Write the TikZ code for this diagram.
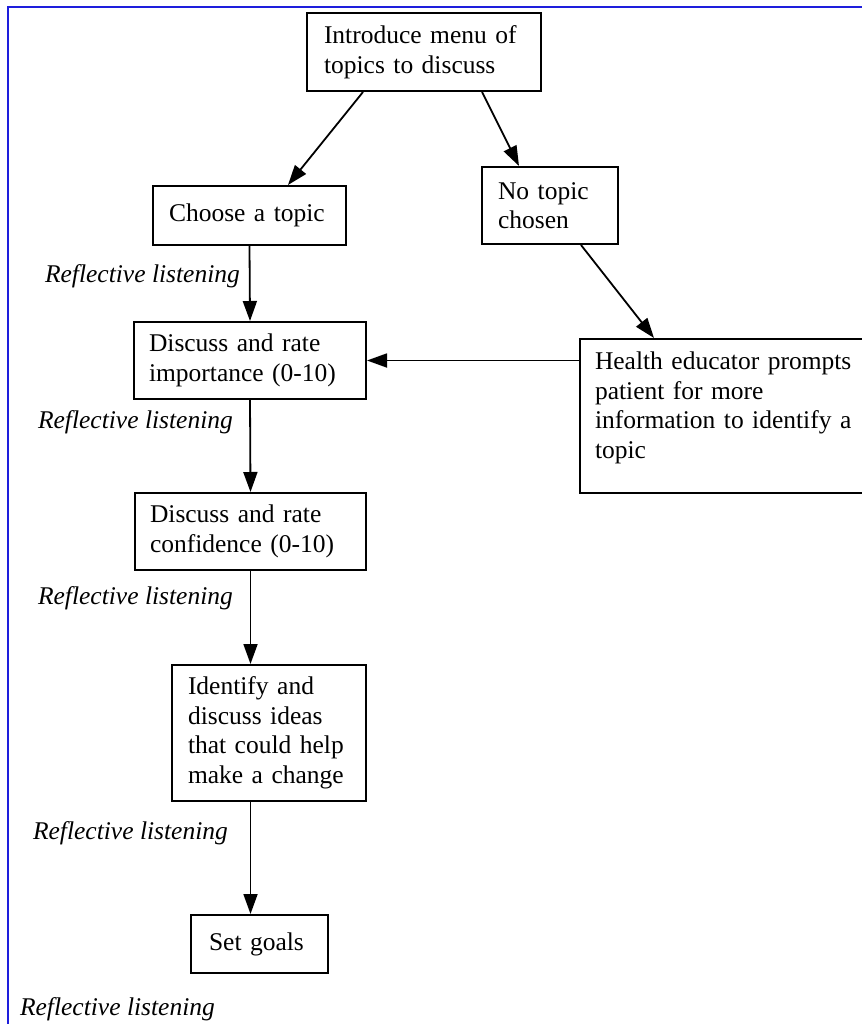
\documentclass[tikz,border=0pt]{standalone}
\usepackage{fontspec}
\setmainfont{Liberation Serif}
\usetikzlibrary{arrows.meta}

\definecolor{framecol}{RGB}{30,30,220}

\begin{document}
\begin{tikzpicture}[x=1pt, y=-1pt,
    box/.style={draw=black, line width=2pt, rectangle, align=left,
      inner ysep=0pt, font=\fontsize{25.5}{29.5}\selectfont},
    note/.style={anchor=east, inner sep=0pt,
      font=\fontsize{25.5}{29.5}\selectfont\itshape},
    flow/.style={-{Triangle[length=20pt,width=14pt]}, line width=1.8pt}]

      \useasboundingbox (0,0) rectangle (861,1024);

      % page frame, cut off at right and bottom
      \draw[framecol, line width=2.5pt] (8,1100) -- (8,7) -- (900,7);

      \node[box, minimum height=78pt, text width=200pt, inner xsep=17pt]
      (intro) at (424,52) {Introduce menu of\\topics to discuss};

      \node[box, minimum height=59pt, text width=161pt, inner xsep=16pt]
      (choose) at (249.5,215.5) {Choose a topic};

      \node[box, minimum height=77pt, text width=104pt, inner xsep=16pt]
      (notopic) at (550,205.5) {No topic\\chosen};

      \node[box, minimum height=77pt, text width=202pt, inner xsep=15pt]
      (import) at (250,360.5) {Discuss and rate\\importance (0-10)};

      \node[box, minimum height=154pt, text width=270pt, inner xsep=15pt,
      text depth=110pt]
      (health) at (730,416) {Health educator prompts\\patient for more\\information to identify a\\topic};

      \node[box, minimum height=77pt, text width=201pt, inner xsep=15pt]
      (confid) at (250.5,531.5) {Discuss and rate\\confidence (0-10)};

      \node[box, minimum height=136pt, text width=162pt, inner xsep=16pt]
      (ideas) at (269,733) {Identify and\\discuss ideas\\that could help\\make a change};

      \node[box, minimum height=58pt, text width=101pt, inner xsep=18pt]
      (goals) at (259.5,944) {Set goals};

      \node[note] (rl1) at (240,276) {Reflective listening};
      \node[note] (rl2) at (233,422) {Reflective listening};
      \node[note] (rl3) at (233,598) {Reflective listening};
      \node[note] (rl4) at (228,833) {Reflective listening};
      \node[note] (rl5) at (215,1009) {Reflective listening};

      \draw[flow] ([xshift=-61pt]intro.south) -- ([xshift=38.5pt]choose.north);
      \draw[flow] ([xshift=58pt]intro.south) -- ([xshift=-31pt]notopic.north);
      \draw[flow] ([xshift=31pt]notopic.south) -- ([xshift=-76pt]health.north);
      \draw[flow] (health.west |- import.east) -- (import.east);
      \draw[flow] (choose.south) -- (import.north);
      \draw[flow] (import.south) -- (confid.north);
      \draw[flow] (confid.south) -- (confid.south |- ideas.north);
      \draw[flow] (ideas.south -| confid.south) -- (confid.south |- goals.north);

      % \draw[help lines] (0,0) grid[step=50] (861,1024);
    \end{tikzpicture}
\end{document}
